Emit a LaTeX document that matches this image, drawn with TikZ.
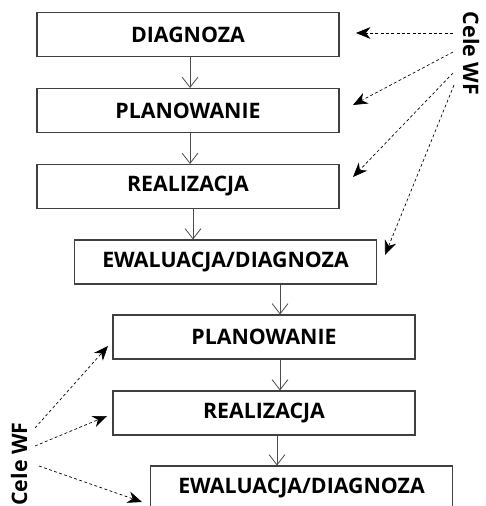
\documentclass[tikz,border=0pt]{standalone}
\usepackage{fontspec}
\setmainfont{Open Sans}
\usetikzlibrary{arrows.meta}
\tikzset{
  box/.style={draw=black!75,line width=0.8pt,minimum width=226.5pt,minimum height=33pt,inner sep=0pt,font=\fontsize{16}{19}\selectfont\bfseries},
  flow/.style={draw=black!70,line width=0.6pt,-{Straight Barb[length=2.7mm,width=4.2mm]}},
  goal/.style={dash pattern=on 2.2pt off 1.8pt,line width=0.5pt,-{Stealth[length=3.8mm,width=3.1mm,inset=1.2mm]}},
  cele/.style={inner sep=0pt,font=\fontsize{16}{19}\selectfont\bfseries},
}
\begin{document}
\begin{tikzpicture}[x=0.75pt,y=-0.75pt]
\useasboundingbox (0,0) rectangle (485,506);
\node[box] (d1) at (188,34.5){DIAGNOZA}; \node[box] (p1) at (188,110.5){PLANOWANIE};
\node[box] (r1) at (188,186.5){REALIZACJA}; \node[box] (e1) at (225.5,262){EWALUACJA/DIAGNOZA};
\node[box] (p2) at (264,337){PLANOWANIE}; \node[box] (r2) at (264,413){REALIZACJA};
\node[box] (e2) at (301.5,488){EWALUACJA/DIAGNOZA};
\node[cele,rotate=-90] (cr) at (471,53.5){Cele WF}; \node[cele,rotate=90] (cl) at (19,464){Cele WF};
% vertical flow
\draw[flow] ([xshift=1.5pt]d1.south) -- ([xshift=1.5pt]p1.north);
\draw[flow] ([xshift=1.5pt]p1.south) -- ([xshift=1.5pt]r1.north);
\draw[flow] ([xshift=3.75pt]r1.south) -- ([xshift=3.75pt]r1.south |- e1.north);
\draw[flow] ([xshift=40.9pt]e1.south) -- ([xshift=40.9pt]e1.south |- p2.north);
\draw[flow] ([xshift=12pt]p2.south) -- ([xshift=12pt]r2.north);
\draw[flow] ([xshift=9.75pt]r2.south) -- ([xshift=9.75pt]r2.south |- e2.north);
% goals, right
\coordinate (a1) at (453,33); \coordinate (a2) at (453,52); \coordinate (a3) at (453,73); \coordinate (a4) at (454,85);
\coordinate (t1) at (356,33); \coordinate (t2) at (353,105); \coordinate (t3) at (353,177); \coordinate (t4) at (385,255);
\draw[goal] (a1) -- (t1); \draw[goal] (a2) -- (t2); \draw[goal] (a3) -- (t3); \draw[goal] (a4) -- (t4);
% goals, left
\coordinate (b1) at (35,428); \coordinate (b2) at (35,446); \coordinate (b3) at (39,466);
\coordinate (u1) at (108,346); \coordinate (u2) at (107,416); \coordinate (u3) at (142,502);
\draw[goal] (b1) -- (u1); \draw[goal] (b2) -- (u2); \draw[goal] (b3) -- (u3);
\end{tikzpicture}
\end{document}
